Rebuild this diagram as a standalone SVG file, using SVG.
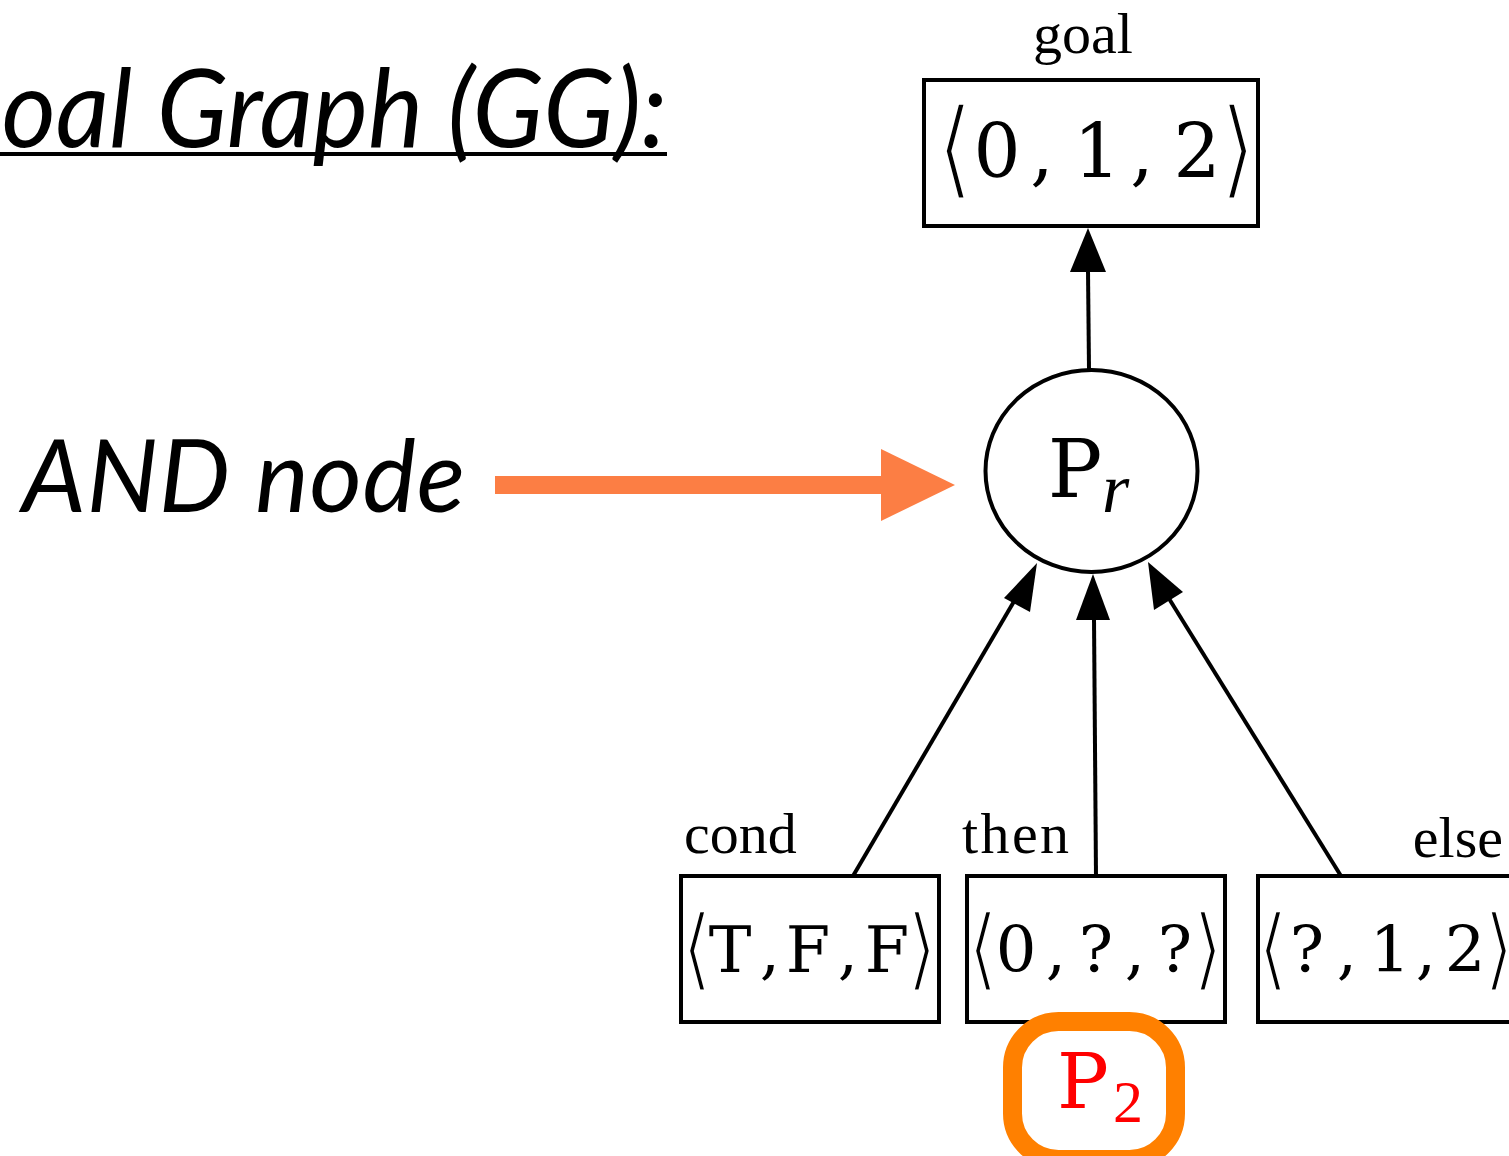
<svg xmlns="http://www.w3.org/2000/svg" width="1509" height="1156" viewBox="0 0 1509 1156">
  <style>
    .box { fill: #fff; stroke: #000; stroke-width: 4; }
    .edge { stroke: #000; stroke-width: 4; fill: none; }
    .tt { font-family: "DejaVu Serif", "Liberation Serif", serif; fill: #000; text-anchor: middle; }
    /* angle delimiters: a white stroke trims the glyph down to a hairline */
    .br { font-family: "DejaVu Sans", sans-serif; fill: #000; stroke: #fff; text-anchor: middle; }
    .lbl { font-family: "Liberation Serif", "DejaVu Serif", serif; font-size: 58px; fill: #000; }
    .big { font-family: Lato, "Open Sans", sans-serif; font-style: italic; fill: #000; }
    .hl { fill: #ff0000; }
  </style>

  <!-- heading -->
  <g id="title">
    <text class="big" transform="translate(667,147) scale(0.965,1)" x="0" y="0" font-size="108" text-anchor="end">Goal Graph (GG):</text>
    <rect x="0" y="152" width="667" height="4" fill="#000"/>
  </g>

  <!-- callout -->
  <g id="and-label">
    <text class="big" x="22" y="512" font-size="101" textLength="443" lengthAdjust="spacing">AND node</text>
    <rect x="495" y="476" width="390" height="18" fill="#fc7e44"/>
    <polygon points="881,449 955,485 881,521" fill="#fc7e44"/>
  </g>

  <!-- connectors -->
  <g id="connectors">
    <line class="edge" x1="1089" y1="370" x2="1088" y2="270"/>
    <polygon points="1088,228 1070,272 1106,272" fill="#000"/>
    <line class="edge" x1="853" y1="876" x2="1016" y2="598"/>
    <polygon points="1037,563 1004,598 1030,612" fill="#000"/>
    <line class="edge" x1="1096" y1="876" x2="1094" y2="618"/>
    <polygon points="1093,574 1076,620 1110,620" fill="#000"/>
    <line class="edge" x1="1341" y1="876" x2="1168" y2="597"/>
    <polygon points="1148,562 1154,610 1183,592" fill="#000"/>
  </g>

  <!-- goal -->
  <g id="goal">
    <text class="lbl" x="1083" y="53" text-anchor="middle">goal</text>
    <rect class="box" x="924" y="80" width="334" height="146"/>
    <text class="br" transform="translate(955,185) scale(0.85,1)" x="0" y="0" font-size="108" stroke-width="3.5">⟨</text>
    <text class="tt" x="997 1042 1097 1142 1197" y="177" font-size="74">0,1,2</text>
    <text class="br" transform="translate(1238,185) scale(0.85,1)" x="0" y="0" font-size="108" stroke-width="3.5">⟩</text>
  </g>

  <!-- root P_r -->
  <g id="pr">
    <ellipse cx="1091.5" cy="471" rx="106" ry="101" fill="#fff" stroke="#000" stroke-width="4"/>
    <text class="tt" x="1075" y="497" font-size="81">P</text>
    <text x="1102" y="512" font-family="Liberation Serif, serif" font-style="italic" font-size="70">r</text>
  </g>

  <!-- cond -->
  <g id="cond">
    <text class="lbl" x="684" y="853">cond</text>
    <rect class="box" x="681" y="876" width="258" height="146"/>
    <text class="br" transform="translate(697,979) scale(0.85,1)" x="0" y="0" font-size="90" stroke-width="3">⟨</text>
    <text class="tt" x="730 770 808 848 887" y="972" font-size="64">T,F,F</text>
    <text class="br" transform="translate(922,979) scale(0.85,1)" x="0" y="0" font-size="90" stroke-width="3">⟩</text>
  </g>

  <!-- then -->
  <g id="then">
    <text class="lbl" x="962" y="853" textLength="107" lengthAdjust="spacing">then</text>
    <rect class="box" x="967" y="876" width="258" height="146"/>
    <text class="br" transform="translate(983,979) scale(0.85,1)" x="0" y="0" font-size="90" stroke-width="3">⟨</text>
    <text class="tt" x="1016 1056 1096 1135 1175" y="972" font-size="64">0,?,?</text>
    <text class="br" transform="translate(1208,979) scale(0.85,1)" x="0" y="0" font-size="90" stroke-width="3">⟩</text>
  </g>

  <!-- else -->
  <g id="else">
    <text class="lbl" x="1503" y="857" text-anchor="end">else</text>
    <rect class="box" x="1258" y="876" width="260" height="146"/>
    <text class="br" transform="translate(1273,979) scale(0.85,1)" x="0" y="0" font-size="90" stroke-width="3">⟨</text>
    <text class="tt" x="1307 1347 1390 1426 1465" y="972" font-size="64">?,1,2</text>
    <text class="br" transform="translate(1499,979) scale(0.85,1)" x="0" y="0" font-size="90" stroke-width="3">⟩</text>
  </g>

  <!-- highlighted P2 -->
  <g id="p2">
    <rect x="1012.5" y="1021.5" width="163" height="138" rx="46" fill="#fff" stroke="#ff8000" stroke-width="19"/>
    <text class="tt hl" x="1083" y="1108" font-size="77">P</text>
    <text class="hl" x="1128" y="1122" font-family="Liberation Serif, serif" font-size="60" text-anchor="middle">2</text>
  </g>
</svg>
